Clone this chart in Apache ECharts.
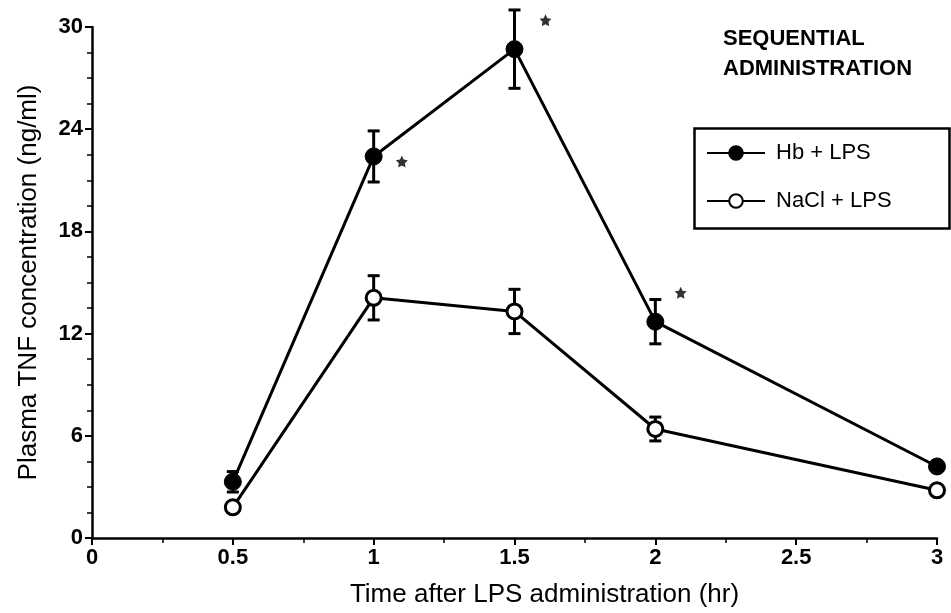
<!DOCTYPE html>
<html>
<head>
<meta charset="utf-8">
<script src="https://cdn.jsdelivr.net/npm/echarts@6/dist/echarts.min.js"></script>
<style>
  html, body { margin: 0; padding: 0; background: #fff; }
  #chart { width: 951px; height: 613px; }
</style>
</head>
<body>
<div id="chart"></div>
<script>
// time points (hr)
const times = [0.5, 1, 1.5, 2, 3]
// Hb + LPS
const hbMean = [3.3, 22.4, 28.7, 12.7, 4.2]
const hbErr = [0.6, 1.5, 2.3, 1.3, 0]
// NaCl + LPS
const naclMean = [1.8, 14.1, 13.3, 6.4, 2.8]
const naclErr = [0.3, 1.3, 1.3, 0.7, 0]
// significance marks
const starPts = [[1.1, 22.1], [1.61, 30.4], [2.09, 14.4]]

const font = 'Liberation Sans, Arial, sans-serif'
const chart = echarts.init(document.getElementById('chart'))

const errData = []
for (let i = 0; i < times.length; i++) {
  if (hbErr[i] > 0) errData.push([times[i], hbMean[i] - hbErr[i], hbMean[i] + hbErr[i]])
  if (naclErr[i] > 0) errData.push([times[i], naclMean[i] - naclErr[i], naclMean[i] + naclErr[i]])
}

const errorBars = (params, api) => {
  const lo = api.coord([api.value(0), api.value(1)])
  const hi = api.coord([api.value(0), api.value(2)])
  const w = 6
  const st = { stroke: '#000', lineWidth: 3 }
  return {
    type: 'group',
    children: [
      { type: 'line', shape: { x1: lo[0], y1: lo[1], x2: hi[0], y2: hi[1] }, style: st },
      { type: 'line', shape: { x1: lo[0] - w, y1: lo[1], x2: lo[0] + w, y2: lo[1] }, style: st },
      { type: 'line', shape: { x1: hi[0] - w, y1: hi[1], x2: hi[0] + w, y2: hi[1] }, style: st }
    ]
  }
}

const pairs = (ys) => times.map((t, i) => [t, ys[i]])

chart.setOption({
  animation: false,
  grid: { left: 92, right: 14, top: 27, bottom: 75 },
  xAxis: {
    type: 'value', min: 0, max: 3, interval: 0.5,
    name: 'Time after LPS administration (hr)',
    nameLocation: 'middle', nameGap: 44,
    nameTextStyle: { fontFamily: font, fontSize: 26, color: '#000', padding: [0, 0, 0, 60] },
    axisLine: { lineStyle: { color: '#000', width: 2.5 } },
    axisTick: { length: 7, lineStyle: { color: '#000', width: 2 } },
    minorTick: { show: true, splitNumber: 2, length: 5, lineStyle: { color: '#000', width: 1.5 } },
    axisLabel: { fontFamily: font, fontSize: 22, fontWeight: 'bold', color: '#000', margin: 9 },
    splitLine: { show: false }
  },
  yAxis: {
    type: 'value', min: 0, max: 30, interval: 6,
    name: 'Plasma TNF concentration (ng/ml)',
    nameLocation: 'middle', nameGap: 50,
    nameTextStyle: { fontFamily: font, fontSize: 26, color: '#000' },
    axisLine: { show: true, lineStyle: { color: '#000', width: 2.5 } },
    axisTick: { show: true, length: 7, lineStyle: { color: '#000', width: 2 } },
    minorTick: { show: true, splitNumber: 4, length: 5, lineStyle: { color: '#000', width: 1.5 } },
    axisLabel: { fontFamily: font, fontSize: 22, fontWeight: 'bold', color: '#000', margin: 9 },
    splitLine: { show: false }
  },
  legend: {
    left: 706, top: 142,
    orient: 'vertical',
    padding: 0,
    itemGap: 26,
    itemWidth: 58, itemHeight: 17,
    textStyle: { fontFamily: font, fontSize: 22, color: '#000', padding: [0, 0, 0, 6] },
    data: ['Hb + LPS', 'NaCl + LPS']
  },
  graphic: [
    { type: 'text', left: 723, top: 28, style: { text: 'SEQUENTIAL', fontFamily: font, fontSize: 22, fontWeight: 'bold', fill: '#000' } },
    { type: 'text', left: 723, top: 58, style: { text: 'ADMINISTRATION', fontFamily: font, fontSize: 22, fontWeight: 'bold', fill: '#000' } },
    { type: 'rect', left: 692, top: 126, shape: { width: 255, height: 100 }, style: { fill: 'none', stroke: '#000', lineWidth: 2.5 } }
  ],
  series: [
    {
      name: 'errors', type: 'custom', renderItem: errorBars, data: errData, z: 1,
      clip: false, silent: true
    },
    {
      name: 'Hb + LPS', type: 'line', data: pairs(hbMean), z: 3,
      symbol: 'circle', symbolSize: 17,
      lineStyle: { color: '#000', width: 3 },
      itemStyle: { color: '#000', borderColor: '#000', borderWidth: 1 }
    },
    {
      name: 'NaCl + LPS', type: 'line', data: pairs(naclMean), z: 3,
      symbol: 'circle', symbolSize: 15,
      lineStyle: { color: '#000', width: 3 },
      itemStyle: { color: '#fff', borderColor: '#000', borderWidth: 3 }
    },
    {
      name: 'stars', type: 'scatter', data: starPts, clip: false, z: 4,
      symbol: 'path://M0,-10 L2.9,-4 L9.5,-3.1 L4.8,1.5 L5.9,8.1 L0,5 L-5.9,8.1 L-4.8,1.5 L-9.5,-3.1 L-2.9,-4 Z',
      symbolSize: 12, itemStyle: { color: '#000' }
    }
  ]
})
</script>
</body>
</html>
